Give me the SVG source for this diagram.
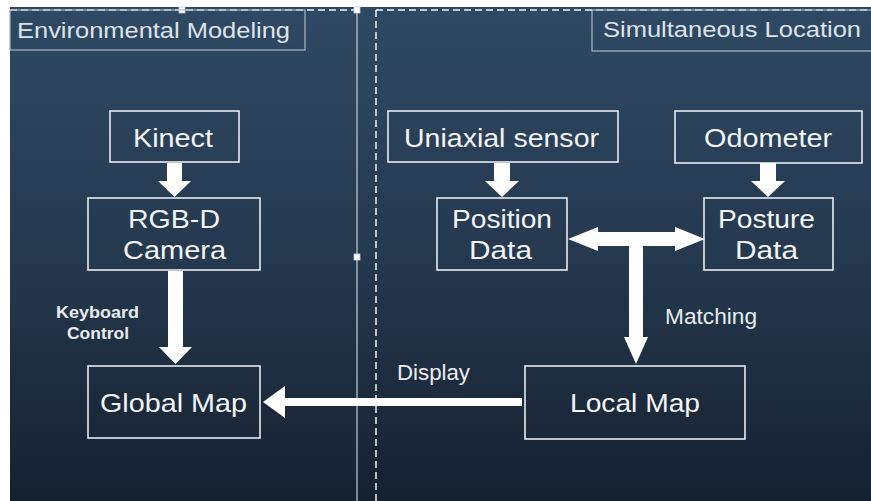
<svg xmlns="http://www.w3.org/2000/svg" width="871" height="501" viewBox="0 0 871 501">
<defs>
<linearGradient id="bg" x1="0" y1="0" x2="0" y2="1">
<stop offset="0" stop-color="#2f4964"/>
<stop offset="0.5" stop-color="#25394f"/>
<stop offset="1" stop-color="#16212f"/>
</linearGradient>
<style>
.box{fill:none;stroke:#e6ebf0;stroke-width:1.6}
.hbox{fill:none;stroke:#aab6c3;stroke-width:1.2}
.t{font-family:"Liberation Sans",Arial,sans-serif;fill:#f2f4f6;font-size:26px}
.h{font-family:"Liberation Sans",Arial,sans-serif;fill:#dde3ea;font-size:21.5px}
.l{font-family:"Liberation Sans",Arial,sans-serif;fill:#e8ecf0;font-size:22px}
.k{font-family:"Liberation Sans",Arial,sans-serif;fill:#e8ecf0;font-size:17px;font-weight:bold}
.arr{fill:#ffffff}
.dash{stroke:#f0f2f4;stroke-width:1.5;stroke-dasharray:7 4;fill:none}
.handle{fill:#ffffff;stroke:#c8cfd6;stroke-width:0.8}
</style>
</defs>
<rect x="0" y="0" width="871" height="501" fill="#ffffff"/>
<rect x="10" y="7" width="861" height="494" fill="url(#bg)"/>
<g id="frame">
<line x1="10" y1="10" x2="357" y2="10" class="dash"/>
<line x1="376" y1="10" x2="871" y2="10" class="dash"/>
<line x1="376" y1="10" x2="376" y2="501" class="dash"/>
<line x1="357" y1="7" x2="357" y2="501" stroke="#c5cdd6" stroke-width="1.2"/>
<rect x="179" y="7" width="6" height="6" class="handle"/>
<rect x="354" y="7" width="6" height="6" class="handle"/>
<rect x="354" y="254" width="6" height="6" class="handle"/>
</g>
<g id="header-env">
<rect x="10" y="10" width="295" height="40" class="hbox"/>
<text x="17" y="38" class="h" textLength="273" lengthAdjust="spacingAndGlyphs">Environmental Modeling</text>
</g>
<g id="header-sim">
<rect x="592" y="10" width="285" height="41" class="hbox"/>
<text x="603" y="37" class="h" textLength="258" lengthAdjust="spacingAndGlyphs">Simultaneous Location</text>
</g>
<g id="kinect">
<rect x="110" y="111" width="129" height="51" class="box"/>
<text x="133" y="147" class="t" textLength="80" lengthAdjust="spacingAndGlyphs">Kinect</text>
</g>
<g id="rgbd">
<rect x="88" y="198" width="172" height="72" class="box"/>
<text x="128" y="228" class="t" textLength="92" lengthAdjust="spacingAndGlyphs">RGB-D</text>
<text x="123" y="259" class="t" textLength="103" lengthAdjust="spacingAndGlyphs">Camera</text>
</g>
<g id="global-map">
<rect x="88" y="366" width="172" height="72" class="box"/>
<text x="100" y="412" class="t" textLength="147" lengthAdjust="spacingAndGlyphs">Global Map</text>
</g>
<g id="uniaxial">
<rect x="388" y="111" width="230" height="51" class="box"/>
<text x="404" y="147" class="t" textLength="195" lengthAdjust="spacingAndGlyphs">Uniaxial sensor</text>
</g>
<g id="odometer">
<rect x="675" y="111" width="187" height="52" class="box"/>
<text x="704" y="147" class="t" textLength="128" lengthAdjust="spacingAndGlyphs">Odometer</text>
</g>
<g id="position">
<rect x="437" y="198" width="130" height="72" class="box"/>
<text x="452" y="228" class="t" textLength="100" lengthAdjust="spacingAndGlyphs">Position</text>
<text x="469" y="259" class="t" textLength="63" lengthAdjust="spacingAndGlyphs">Data</text>
</g>
<g id="posture">
<rect x="704" y="198" width="129" height="72" class="box"/>
<text x="718" y="228" class="t" textLength="97" lengthAdjust="spacingAndGlyphs">Posture</text>
<text x="735" y="259" class="t" textLength="63" lengthAdjust="spacingAndGlyphs">Data</text>
</g>
<g id="local-map">
<rect x="525" y="366" width="220" height="73" class="box"/>
<text x="570" y="412" class="t" textLength="130" lengthAdjust="spacingAndGlyphs">Local Map</text>
</g>
<g id="connectors">
<polygon class="arr" points="167,163 182,163 182,181 191,181 174.5,197 158,181 167,181"/>
<polygon class="arr" points="168,271 183,271 183,347 192,347 175.5,364 159,347 168,347"/>
<polygon class="arr" points="494,163 510,163 510,181 519,181 502,197 485,181 494,181"/>
<polygon class="arr" points="760,163 776,163 776,181 785,181 768,197 751,181 760,181"/>
<polygon class="arr" points="568,239 598,227 598,232 675,232 675,227 705,239 675,251 675,246 643,246 643,337 648,337 636,364 624,337 629,337 629,246 598,246 598,251"/>
<polygon class="arr" points="263,402 285,386 285,398 522,398 522,406 285,406 285,418"/>
<text x="56" y="318" class="k" textLength="83" lengthAdjust="spacingAndGlyphs">Keyboard</text>
<text x="67" y="339" class="k" textLength="62" lengthAdjust="spacingAndGlyphs">Control</text>
<text x="665" y="324" class="l" textLength="92" lengthAdjust="spacingAndGlyphs">Matching</text>
<text x="397" y="380" class="l" textLength="73" lengthAdjust="spacingAndGlyphs">Display</text>
</g>
</svg>
